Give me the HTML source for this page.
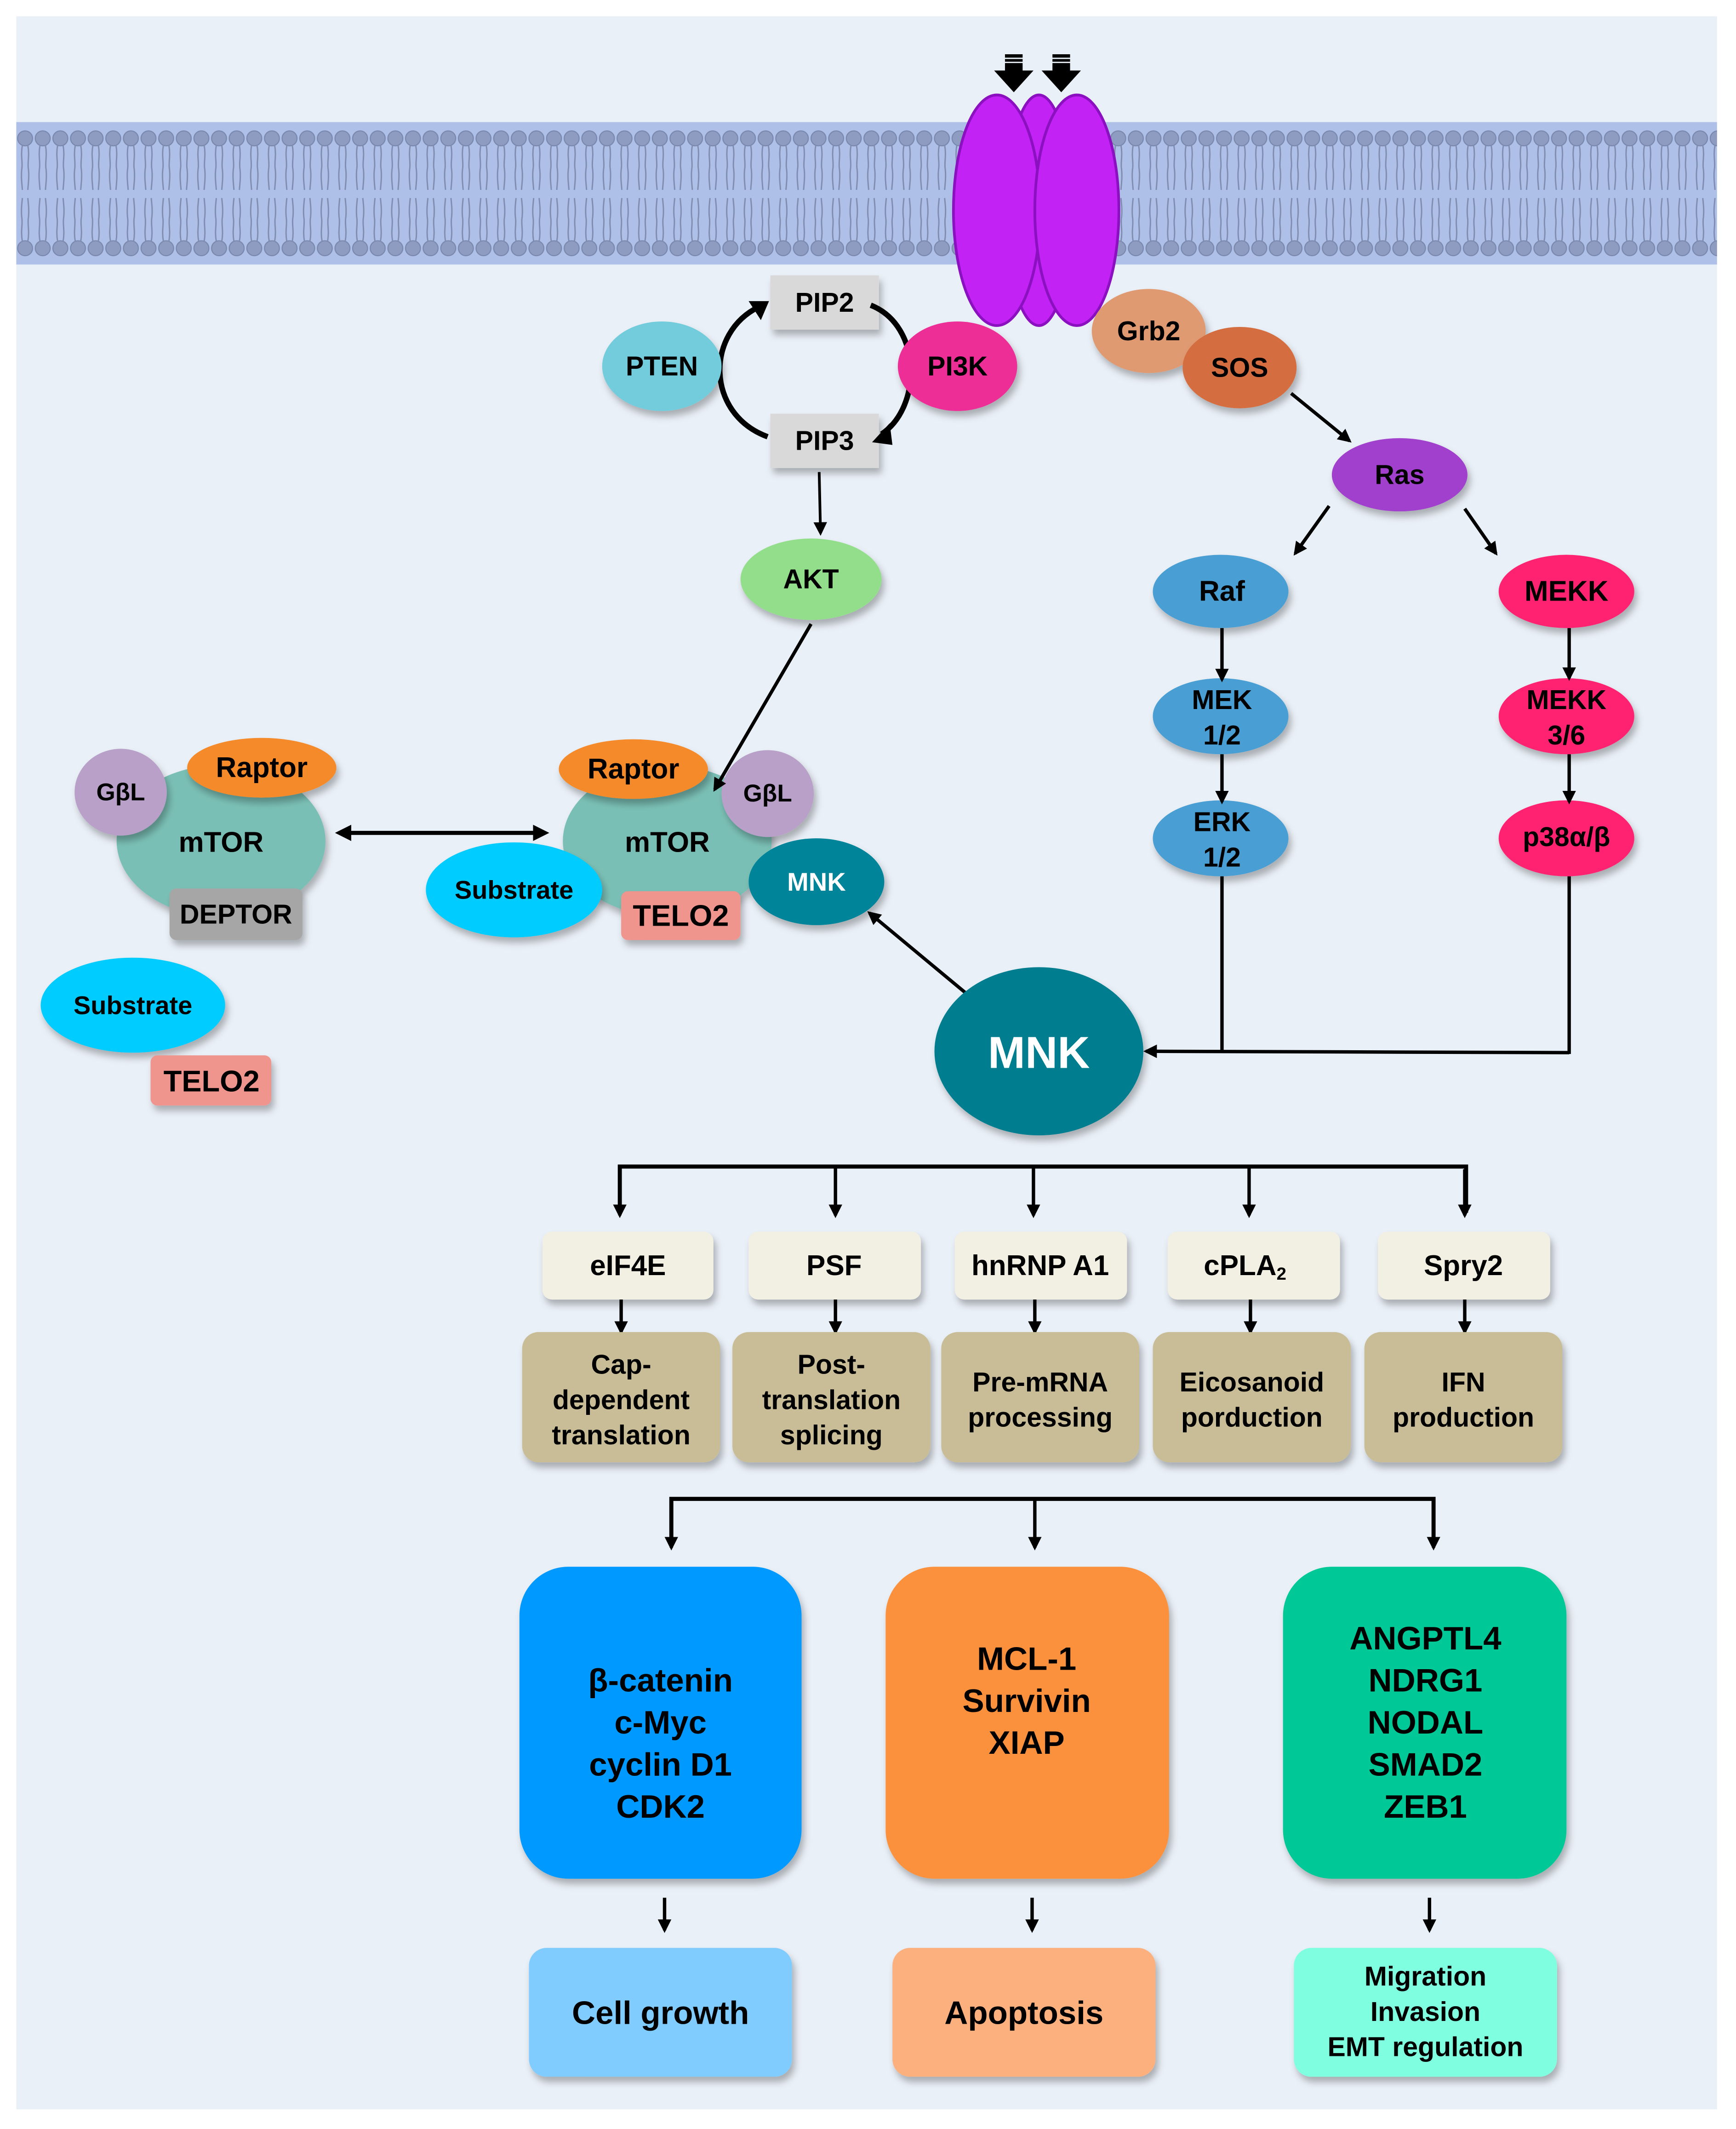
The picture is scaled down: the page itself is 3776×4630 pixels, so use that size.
<!DOCTYPE html>
<html><head><meta charset="utf-8">
<style>
html,body{margin:0;padding:0;background:#fff;}
svg{display:block;}
text{font-family:"Liberation Sans",Arial,sans-serif;font-weight:bold;fill:#000;text-anchor:middle;dominant-baseline:central;}
</style></head>
<body>
<svg width="3776" height="4630" viewBox="0 0 1280 1569.5" preserveAspectRatio="none" xmlns="http://www.w3.org/2000/svg">
<defs>
<filter id="sh" x="-20%" y="-20%" width="140%" height="150%">
<feDropShadow dx="2" dy="4" stdDeviation="2.5" flood-color="#000" flood-opacity="0.28"/>
</filter>
<marker id="ah" markerWidth="10" markerHeight="10" refX="8" refY="5" orient="auto" markerUnits="userSpaceOnUse">
<path d="M0,0 L10,5 L0,10 Z" fill="#000"/>
</marker>
<marker id="ahs" markerWidth="12" markerHeight="12" refX="1" refY="6" orient="auto-start-reverse" markerUnits="userSpaceOnUse">
<path d="M0,0 L12,6 L0,12 Z" fill="#000"/>
</marker>
<pattern id="lip" x="12" y="0" width="13" height="200" patternUnits="userSpaceOnUse">
<circle cx="6.5" cy="102" r="5.5" fill="#8E9CC2" stroke="#7A88AE" stroke-width="0.8"/>
<path d="M4.5,107 C3,115 5,120 4,125 C3.5,130 4,134 4.5,140 M8.5,107 C10,115 8,120 9,125 C9.5,130 9,134 8.5,140" stroke="#7F8CB0" stroke-width="1" fill="none"/>
<circle cx="6.5" cy="183" r="5.5" fill="#8E9CC2" stroke="#7A88AE" stroke-width="0.8"/>
<path d="M4.5,178 C3,170 5,165 4,160 C3.5,155 4,151 4.5,146 M8.5,178 C10,170 8,165 9,160 C9.5,155 9,151 8.5,146" stroke="#7F8CB0" stroke-width="1" fill="none"/>
</pattern>
</defs>

<rect x="0" y="0" width="1280" height="1569.5" fill="#fff"/>
<rect x="12" y="12" width="1254" height="1543" fill="#EAF0F7"/>
<rect x="12" y="90" width="1254" height="105" fill="#AEC0E8"/>
<rect x="12" y="90" width="1254" height="105" fill="url(#lip)"/>

<ellipse cx="766" cy="155" rx="24" ry="85" fill="#C322F5" stroke="#8A10C0" stroke-width="2"/>
<ellipse cx="735" cy="155" rx="32" ry="85" fill="#C322F5" stroke="#8A10C0" stroke-width="2"/>
<ellipse cx="794" cy="155" rx="31" ry="85" fill="#C322F5" stroke="#8A10C0" stroke-width="2"/>
<g fill="#000">
<path d="M741,40 h13 v12 h8 l-14.5,16 l-14.5,-16 h8z"/>
<path d="M776,40 h13 v12 h8 l-14.5,16 l-14.5,-16 h8z"/>
</g>
<g stroke="#EAF0F7" stroke-width="1"><line x1="740" y1="43" x2="756" y2="43"/><line x1="740" y1="46" x2="756" y2="46"/><line x1="775" y1="43" x2="791" y2="43"/><line x1="775" y1="46" x2="791" y2="46"/></g>

<rect x="568" y="203" width="80" height="40" fill="#D9D9D9" filter="url(#sh)"/>
<text x="608" y="223" font-size="20">PIP2</text>
<rect x="568" y="305" width="80" height="40" fill="#D9D9D9" filter="url(#sh)"/>
<text x="608" y="325" font-size="20">PIP3</text>
<path d="M566,322 C520,305 520,245 560,226" stroke="#000" stroke-width="4" fill="none"/>
<path d="M567,222 L552,222 L561,236 Z" fill="#000"/>
<path d="M642,225 C680,240 680,300 650,320" stroke="#000" stroke-width="4" fill="none"/>
<path d="M643,326 L656,312 L658,328 Z" fill="#000"/>
<ellipse cx="488" cy="270" rx="44" ry="33" fill="#72CCDC" filter="url(#sh)"/>
<text x="488" y="270" font-size="20">PTEN</text>
<ellipse cx="706" cy="270" rx="44" ry="33" fill="#EC2E96" filter="url(#sh)"/>
<text x="706" y="270" font-size="20">PI3K</text>

<line x1="604" y1="348" x2="605" y2="393" stroke="#000" stroke-width="2" marker-end="url(#ah)"/>
<ellipse cx="598" cy="427" rx="52" ry="30" fill="#92DE8A" filter="url(#sh)"/>
<text x="598" y="427" font-size="20">AKT</text>

<ellipse cx="847" cy="244" rx="42" ry="31" fill="#E09A72" filter="url(#sh)"/>
<text x="847" y="244" font-size="20">Grb2</text>
<ellipse cx="914" cy="271" rx="42" ry="30" fill="#D46E40" filter="url(#sh)"/>
<text x="914" y="271" font-size="20">SOS</text>
<line x1="952" y1="290" x2="995" y2="325" stroke="#000" stroke-width="2.5" marker-end="url(#ah)"/>
<ellipse cx="1032" cy="350" rx="50" ry="27" fill="#A040CC" filter="url(#sh)"/>
<text x="1032" y="350" font-size="20">Ras</text>
<line x1="980" y1="373" x2="955" y2="408" stroke="#000" stroke-width="2.5" marker-end="url(#ah)"/>
<line x1="1080" y1="375" x2="1103" y2="408" stroke="#000" stroke-width="2.5" marker-end="url(#ah)"/>

<g filter="url(#sh)">
<ellipse cx="900" cy="436" rx="50" ry="27" fill="#4A9FD4"/>
<ellipse cx="900" cy="528" rx="50" ry="28" fill="#4A9FD4"/>
<ellipse cx="900" cy="618" rx="50" ry="28" fill="#4A9FD4"/>
<ellipse cx="1155" cy="436" rx="50" ry="27" fill="#FE2270"/>
<ellipse cx="1155" cy="528" rx="50" ry="28" fill="#FE2270"/>
<ellipse cx="1155" cy="618" rx="50" ry="28" fill="#FE2270"/>
</g>
<text x="901" y="436" font-size="21">Raf</text>
<text x="901" y="516" font-size="20">MEK</text><text x="901" y="542" font-size="20">1/2</text>
<text x="901" y="606" font-size="20">ERK</text><text x="901" y="632" font-size="20">1/2</text>
<text x="1155" y="436" font-size="21">MEKK</text>
<text x="1155" y="516" font-size="20">MEKK</text><text x="1155" y="542" font-size="20">3/6</text>
<text x="1155" y="617" font-size="20">p38α/β</text>
<g stroke="#000" stroke-width="2.5">
<line x1="901" y1="463" x2="901" y2="501" marker-end="url(#ah)"/>
<line x1="901" y1="556" x2="901" y2="591" marker-end="url(#ah)"/>
<line x1="1157" y1="463" x2="1157" y2="500" marker-end="url(#ah)"/>
<line x1="1157" y1="556" x2="1157" y2="591" marker-end="url(#ah)"/>
<line x1="901" y1="646" x2="901" y2="776"/>
<line x1="1157" y1="646" x2="1157" y2="777"/>
<line x1="1157" y1="776" x2="845" y2="775" marker-end="url(#ah)"/>
</g>

<ellipse cx="163" cy="620" rx="77" ry="56" fill="#7ABFB5" filter="url(#sh)"/>
<ellipse cx="89" cy="584" rx="34" ry="32" fill="#B8A0C8" filter="url(#sh)"/>
<ellipse cx="193" cy="566" rx="55" ry="22" fill="#F58A2A" filter="url(#sh)"/>
<rect x="125" y="655" width="98" height="38" rx="5" fill="#A6A6A6" filter="url(#sh)"/>
<text x="163" y="621" font-size="21">mTOR</text>
<text x="89" y="584" font-size="18">GβL</text>
<text x="193" y="566" font-size="21">Raptor</text>
<text x="174" y="674" font-size="20">DEPTOR</text>
<line x1="258" y1="614" x2="394" y2="614" stroke="#000" stroke-width="3" marker-start="url(#ahs)" marker-end="url(#ahs)"/>

<ellipse cx="492" cy="620" rx="77" ry="56" fill="#7ABFB5" filter="url(#sh)"/>
<ellipse cx="467" cy="567" rx="55" ry="22" fill="#F58A2A" filter="url(#sh)"/>
<ellipse cx="566" cy="585" rx="34" ry="32" fill="#B8A0C8" filter="url(#sh)"/>
<ellipse cx="379" cy="656" rx="65" ry="35" fill="#00CCFF" filter="url(#sh)"/>
<rect x="458" y="657" width="88" height="36" rx="5" fill="#F0948E" filter="url(#sh)"/>
<ellipse cx="602" cy="650" rx="50" ry="32" fill="#008499" filter="url(#sh)"/>
<text x="492" y="621" font-size="21">mTOR</text>
<text x="467" y="567" font-size="21">Raptor</text>
<text x="566" y="585" font-size="18">GβL</text>
<text x="379" y="656" font-size="19">Substrate</text>
<text x="502" y="675" font-size="22">TELO2</text>
<text x="602" y="650" font-size="19" style="fill:#fff">MNK</text>
<line x1="598" y1="460" x2="527" y2="582" stroke="#000" stroke-width="2.5" marker-end="url(#ah)"/>

<ellipse cx="98" cy="741" rx="68" ry="35" fill="#00CCFF" filter="url(#sh)"/>
<text x="98" y="741" font-size="19">Substrate</text>
<rect x="111" y="778" width="89" height="37" rx="5" fill="#F0948E" filter="url(#sh)"/>
<text x="156" y="797" font-size="22">TELO2</text>

<line x1="712" y1="732" x2="641" y2="673" stroke="#000" stroke-width="2.5" marker-end="url(#ah)"/>
<ellipse cx="766" cy="775" rx="77" ry="62" fill="#007E90" filter="url(#sh)"/>
<text x="766" y="776" font-size="33" style="fill:#fff">MNK</text>

<polyline points="457,894 457,860 1081,860 1081,894" stroke="#000" stroke-width="3" fill="none"/>
<g stroke="#000" stroke-width="2.5">
<line x1="457" y1="862" x2="457" y2="896" marker-end="url(#ah)"/>
<line x1="616" y1="860" x2="616" y2="896" marker-end="url(#ah)"/>
<line x1="762" y1="860" x2="762" y2="896" marker-end="url(#ah)"/>
<line x1="921" y1="860" x2="921" y2="896" marker-end="url(#ah)"/>
<line x1="1080" y1="862" x2="1080" y2="896" marker-end="url(#ah)"/>
</g>
<g fill="#F2EFE3" filter="url(#sh)">
<rect x="400" y="908" width="126" height="50" rx="7"/>
<rect x="552" y="908" width="127" height="50" rx="7"/>
<rect x="704" y="908" width="127" height="50" rx="7"/>
<rect x="861" y="908" width="127" height="50" rx="7"/>
<rect x="1016" y="908" width="127" height="50" rx="7"/>
</g>
<text x="463" y="933" font-size="21">eIF4E</text>
<text x="615" y="933" font-size="21">PSF</text>
<text x="767" y="933" font-size="21">hnRNP A1</text>
<text x="918" y="933" font-size="21">cPLA<tspan font-size="13" dy="6">2</tspan></text>
<text x="1079" y="933" font-size="21">Spry2</text>
<g stroke="#000" stroke-width="2.5">
<line x1="458" y1="958" x2="458" y2="982" marker-end="url(#ah)"/>
<line x1="616" y1="958" x2="616" y2="982" marker-end="url(#ah)"/>
<line x1="763" y1="958" x2="763" y2="982" marker-end="url(#ah)"/>
<line x1="922" y1="958" x2="922" y2="982" marker-end="url(#ah)"/>
<line x1="1080" y1="958" x2="1080" y2="982" marker-end="url(#ah)"/>
</g>
<g fill="#C8BD96" filter="url(#sh)">
<rect x="385" y="982" width="146" height="96" rx="12"/>
<rect x="540" y="982" width="146" height="96" rx="12"/>
<rect x="694" y="982" width="146" height="96" rx="12"/>
<rect x="850" y="982" width="146" height="96" rx="12"/>
<rect x="1006" y="982" width="146" height="96" rx="12"/>
</g>
<g font-size="20">
<text x="458" y="1006">Cap-</text><text x="458" y="1032">dependent</text><text x="458" y="1058">translation</text>
<text x="613" y="1006">Post-</text><text x="613" y="1032">translation</text><text x="613" y="1058">splicing</text>
<text x="767" y="1019">Pre-mRNA</text><text x="767" y="1045">processing</text>
<text x="923" y="1019">Eicosanoid</text><text x="923" y="1045">porduction</text>
<text x="1079" y="1019">IFN</text><text x="1079" y="1045">production</text>
</g>

<polyline points="495,1138 495,1105 1057,1105 1057,1138" stroke="#000" stroke-width="3" fill="none"/>
<g stroke="#000" stroke-width="2.5">
<line x1="495" y1="1107" x2="495" y2="1141" marker-end="url(#ah)"/>
<line x1="763" y1="1105" x2="763" y2="1141" marker-end="url(#ah)"/>
<line x1="1057" y1="1107" x2="1057" y2="1141" marker-end="url(#ah)"/>
</g>
<rect x="383" y="1155" width="208" height="230" rx="36" fill="#0099FF" filter="url(#sh)"/>
<rect x="653" y="1155" width="209" height="230" rx="36" fill="#FB913C" filter="url(#sh)"/>
<rect x="946" y="1155" width="209" height="230" rx="36" fill="#00C896" filter="url(#sh)"/>
<g font-size="24">
<text x="487" y="1239">β-catenin</text><text x="487" y="1270">c-Myc</text><text x="487" y="1301">cyclin D1</text><text x="487" y="1332">CDK2</text>
<text x="757" y="1223">MCL-1</text><text x="757" y="1254">Survivin</text><text x="757" y="1285">XIAP</text>
<text x="1051" y="1208">ANGPTL4</text><text x="1051" y="1239">NDRG1</text><text x="1051" y="1270">NODAL</text><text x="1051" y="1301">SMAD2</text><text x="1051" y="1332">ZEB1</text>
</g>
<g stroke="#000" stroke-width="2.5">
<line x1="490" y1="1399" x2="490" y2="1423" marker-end="url(#ah)"/>
<line x1="761" y1="1399" x2="761" y2="1423" marker-end="url(#ah)"/>
<line x1="1054" y1="1399" x2="1054" y2="1423" marker-end="url(#ah)"/>
</g>
<rect x="390" y="1436" width="194" height="95" rx="13" fill="#80CCFF" filter="url(#sh)"/>
<rect x="658" y="1436" width="194" height="95" rx="13" fill="#FCB07E" filter="url(#sh)"/>
<rect x="954" y="1436" width="194" height="95" rx="13" fill="#80FFE0" filter="url(#sh)"/>
<text x="487" y="1484" font-size="24">Cell growth</text>
<text x="755" y="1484" font-size="24">Apoptosis</text>
<g font-size="20"><text x="1051" y="1457">Migration</text><text x="1051" y="1483">Invasion</text><text x="1051" y="1509">EMT regulation</text></g>
</svg>
</body></html>
